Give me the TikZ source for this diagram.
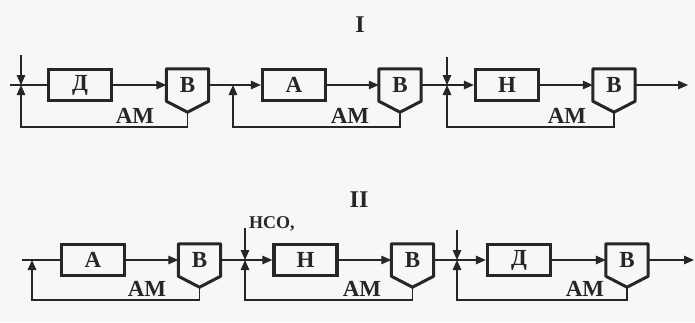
\documentclass[tikz,border=0pt]{standalone}
\usepackage{fontspec}
\setmainfont{Liberation Serif}
\usetikzlibrary{arrows.meta,calc}
\begin{document}
\begin{tikzpicture}[x=1pt,y=-1pt,
  ln/.style={draw=black!85, line width=1.3pt},
  arr/.style={ln, -{Triangle[length=10pt,width=8.5pt]}},
  blk/.style={draw=black!85, line width=3.3pt, minimum width=63pt, minimum height=31pt,
    inner sep=0pt, font=\fontsize{23}{23}\selectfont\bfseries, text=black!85},
  vb/.style={minimum width=42pt, minimum height=32pt, inner sep=0pt,
    font=\fontsize{23}{23}\selectfont\bfseries, text=black!85},
  vline/.style={draw=black!85, line width=3pt, line join=round},
  amlab/.style={font=\fontsize{23}{23}\selectfont\bfseries, text=black!85, inner sep=0pt},
  ttl/.style={font=\fontsize{24}{24}\selectfont\bfseries, text=black!85, inner sep=0pt},
]
\fill[black!3] (0,0) rectangle (695,322);
\useasboundingbox (0,0) rectangle (695,322);

\newcommand\Vdraw[1]{%
  \draw[vline] (#1.north west) -- (#1.north east) -- (#1.south east)
     -- ($(#1.south)+(0,11)$) coordinate (#1t) -- (#1.south west) -- cycle;}

% ---------- Row I ----------
\node[ttl] (t1) at (360,25) {I};

\coordinate (s1) at (10,85);
\coordinate (j1) at (21,85);
\coordinate (i1) at (21,55);
\coordinate (f1) at (21,127);
\node[blk] (d1) at (80,85) {Д};
\node[vb] (v1) at (187.5,85) {В};
\Vdraw{v1}
\node[amlab] (am1) at (135,116) {АМ};

\coordinate (j2) at (233,85);
\coordinate (f2) at (233,127);
\node[blk] (a1) at (294,85) {А};
\node[vb] (v2) at (400,85) {В};
\Vdraw{v2}
\node[amlab] (am2) at (350,116) {АМ};

\coordinate (j3) at (447,85);
\coordinate (i3) at (447,57);
\coordinate (f3) at (447,127);
\node[blk] (n1) at (507,85) {Н};
\node[vb] (v3) at (614,85) {В};
\Vdraw{v3}
\node[amlab] (am3) at (567,116) {АМ};
\coordinate (o1) at (688,85);

\draw[ln] (s1) -- (d1.west);
\draw[arr] (i1) -- (j1);
\draw[arr] (d1.east) -- (v1.west);
\draw[arr] (v1t) -- (v1t |- f1) -- (f1) -- (j1);
\draw[arr] (v1.east) -- (a1.west);
\draw[arr] (a1.east) -- (v2.west);
\draw[arr] (v2t) -- (v2t |- f2) -- (f2) -- (j2);
\draw[arr] (v2.east) -- (n1.west);
\draw[arr] (i3) -- (j3);
\draw[arr] (n1.east) -- (v3.west);
\draw[arr] (v3t) -- (v3t |- f3) -- (f3) -- (j3);
\draw[arr] (v3.east) -- (o1);

% ---------- Row II ----------
\node[ttl] (t2) at (359,200) {II};

\coordinate (s2) at (22,260);
\coordinate (k1) at (32,260);
\coordinate (g1) at (32,300);
\node[blk] (a2) at (93,260) {А};
\node[vb] (w1) at (199.5,260) {В};
\Vdraw{w1}
\node[amlab] (bm1) at (147,289) {АМ};

\coordinate (k2) at (245,260);
\coordinate (h2) at (245,228);
\coordinate (g2) at (245,300);
\node[font=\fontsize{18}{18}\selectfont\bfseries, text=black!85, inner sep=0pt, anchor=base west] (hco) at (249,228) {НСО,};
\node[blk] (n2) at (305.5,260) {Н};
\node[vb] (w2) at (412.5,260) {В};
\Vdraw{w2}
\node[amlab] (bm2) at (362,289) {АМ};

\coordinate (k3) at (457,260);
\coordinate (h3) at (457,230);
\coordinate (g3) at (457,300);
\node[blk] (d2) at (519,260) {Д};
\node[vb] (w3) at (627,260) {В};
\Vdraw{w3}
\node[amlab] (bm3) at (585,289) {АМ};
\coordinate (o2) at (694,260);

\draw[ln] (s2) -- (a2.west);
\draw[arr] (a2.east) -- (w1.west);
\draw[arr] (w1t) -- (w1t |- g1) -- (g1) -- (k1);
\draw[arr] (w1.east) -- (n2.west);
\draw[arr] (h2) -- (k2);
\draw[arr] (n2.east) -- (w2.west);
\draw[arr] (w2t) -- (w2t |- g2) -- (g2) -- (k2);
\draw[arr] (w2.east) -- (d2.west);
\draw[arr] (h3) -- (k3);
\draw[arr] (d2.east) -- (w3.west);
\draw[arr] (w3t) -- (w3t |- g3) -- (g3) -- (k3);
\draw[arr] (w3.east) -- (o2);
\end{tikzpicture}
\end{document}
